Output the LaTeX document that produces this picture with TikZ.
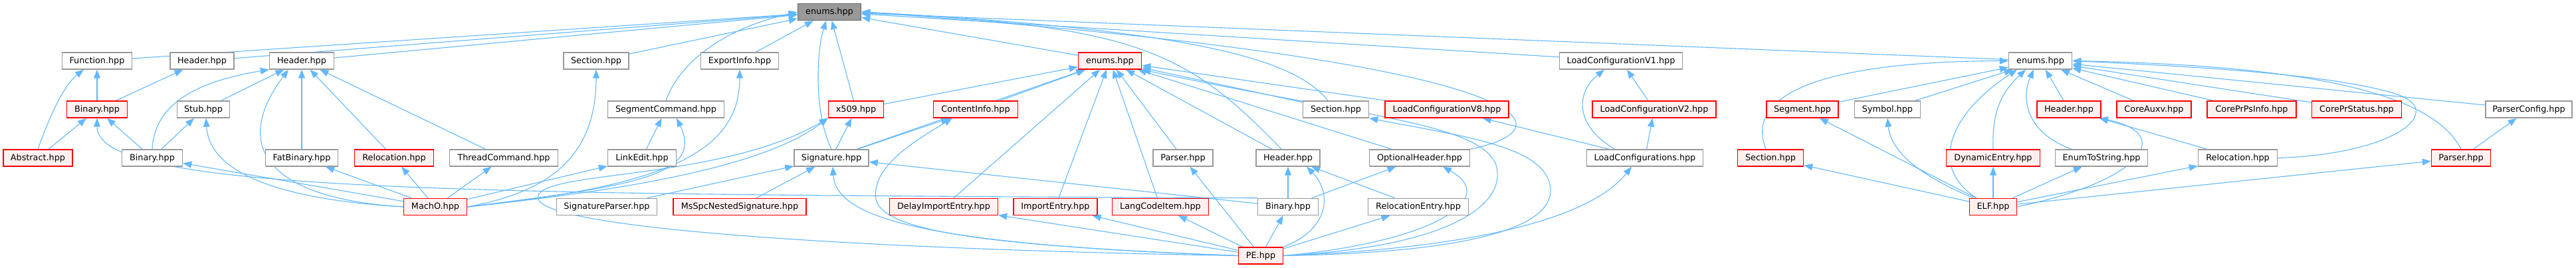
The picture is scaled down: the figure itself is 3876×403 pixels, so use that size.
\documentclass[tikz,border=0pt]{standalone}
\usepackage{fontspec}
\setmainfont{DejaVu Sans}
\usetikzlibrary{arrows.meta}
\pgfdeclarelayer{background}
\pgfsetlayers{background,main}
\definecolor{edgeblue}{HTML}{63B8FF}
\definecolor{boxgray}{HTML}{999999}
\definecolor{rootgray}{HTML}{666666}
\definecolor{boxred}{HTML}{FF0000}
\definecolor{boxpink}{HTML}{FFF0F0}

\begin{document}
\begin{tikzpicture}[x=1pt, y=-1pt,
    box/.style={draw=boxgray, fill=white, line width=1.4pt, minimum height=25pt,
      inner sep=0pt, font=\fontsize{12.8pt}{15pt}\selectfont},
    redbox/.style={box, draw=boxred, fill=boxpink},
    rootbox/.style={box, draw=rootgray, fill=boxgray},
    edge/.style={draw=edgeblue, line width=1.1pt, -{Triangle[length=13pt,width=10pt]}}]
  \useasboundingbox (0,0) rectangle (3876,403);

  % root
  \node[rootbox, minimum width=95pt] (root) at (1248,18) {enums.hpp};

  % row 1
  \node[box, minimum width=105pt] (func) at (146,91.5) {Function.hpp};
  \node[box, minimum width=96pt] (hdrA) at (304,91.5) {Header.hpp};
  \node[box, minimum width=97pt] (hdrM) at (454,91.5) {Header.hpp};
  \node[box, minimum width=98pt] (secM) at (897,91.5) {Section.hpp};
  \node[box, minimum width=117pt] (expI) at (1113,91.5) {ExportInfo.hpp};
  \node[redbox, minimum width=95pt] (enmPE) at (1670,91.5) {enums.hpp};
  \node[box, minimum width=185pt] (lcvI) at (2439,91.5) {LoadConfigurationV1.hpp};
  \node[box, minimum width=95pt] (enmELF) at (3070,91.5) {enums.hpp};

  % row 2
  \node[redbox, minimum width=91pt] (binA) at (146,164.5) {Binary.hpp};
  \node[box, minimum width=79pt] (stub) at (306,164.5) {Stub.hpp};
  \node[box, minimum width=175pt] (segC) at (1002,164.5) {SegmentCommand.hpp};
  \node[redbox, minimum width=83pt] (xcert) at (1288,164.5) {x509.hpp};
  \node[redbox, minimum width=127pt] (cinfo) at (1468,164.5) {ContentInfo.hpp};
  \node[box, minimum width=99pt] (secPE) at (2010,164.5) {Section.hpp};
  \node[redbox, minimum width=186pt] (lcvVIII) at (2177,164.5) {LoadConfigurationV8.hpp};
  \node[redbox, minimum width=186pt] (lcvII) at (2489,164.5) {LoadConfigurationV2.hpp};
  \node[redbox, minimum width=108pt] (segE) at (2712,164.5) {Segment.hpp};
  \node[box, minimum width=99pt] (sym) at (2840,164.5) {Symbol.hpp};
  \node[redbox, minimum width=96pt] (hdrE) at (3113,164.5) {Header.hpp};
  \node[redbox, minimum width=112pt] (auxv) at (3241,164.5) {CoreAuxv.hpp};
  \node[redbox, minimum width=134pt] (psinfo) at (3388,164.5) {CorePrPsInfo.hpp};
  \node[redbox, minimum width=135pt] (prstat) at (3546,164.5) {CorePrStatus.hpp};
  \node[box, minimum width=130pt] (pcfg) at (3805,164.5) {ParserConfig.hpp};

  % row 3
  \node[redbox, minimum width=104pt] (abst) at (57,237.5) {Abstract.hpp};
  \node[box, minimum width=91pt] (binM) at (229,237.5) {Binary.hpp};
  \node[box, minimum width=109pt] (fat) at (454,237.5) {FatBinary.hpp};
  \node[redbox, minimum width=119pt] (relM) at (593,237.5) {Relocation.hpp};
  \node[box, minimum width=163pt] (thread) at (758,237.5) {ThreadCommand.hpp};
  \node[box, minimum width=103pt] (ledit) at (966,237.5) {LinkEdit.hpp};
  \node[box, minimum width=112pt] (sig) at (1251,237.5) {Signature.hpp};
  \node[box, minimum width=90pt] (parPE) at (1780,237.5) {Parser.hpp};
  \node[box, minimum width=96pt] (hdrPE) at (1938,237.5) {Header.hpp};
  \node[box, minimum width=151pt] (opt) at (2136,237.5) {OptionalHeader.hpp};
  \node[box, minimum width=175pt] (lcfg) at (2475,237.5) {LoadConfigurations.hpp};
  \node[redbox, minimum width=99pt] (secE) at (2664,237.5) {Section.hpp};
  \node[redbox, minimum width=141pt] (dyn) at (2999,237.5) {DynamicEntry.hpp};
  \node[box, minimum width=139pt] (e2s) at (3162,237.5) {EnumToString.hpp};
  \node[box, minimum width=119pt] (relE) at (3367,237.5) {Relocation.hpp};
  \node[redbox, minimum width=89pt] (parE) at (3703,237.5) {Parser.hpp};

  % row 4
  \node[redbox, minimum width=95pt] (macho) at (655,311) {MachO.hpp};
  \node[box, minimum width=151pt] (sigpar) at (913,311) {SignatureParser.hpp};
  \node[redbox, minimum width=200pt] (msspc) at (1113,311) {MsSpcNestedSignature.hpp};
  \node[redbox, minimum width=163pt] (delay) at (1420,311) {DelayImportEntry.hpp};
  \node[redbox, minimum width=126pt] (imp) at (1588,311) {ImportEntry.hpp};
  \node[redbox, minimum width=145pt] (lang) at (1746,311) {LangCodeItem.hpp};
  \node[box, minimum width=91pt] (binPE) at (1938,311) {Binary.hpp};
  \node[box, minimum width=151pt] (reloc) at (2134,311) {RelocationEntry.hpp};
  \node[redbox, minimum width=71pt] (elf) at (2999,311) {ELF.hpp};

  % row 5
  \node[redbox, minimum width=67pt] (pe) at (1897,384.5) {PE.hpp};

  \begin{pgfonlayer}{background}
  % straight edges
  \foreach \a/\b in {func/root, hdrA/root, hdrM/root, secM/root, expI/root, xcert/root,
      enmPE/root, lcvI/root, enmELF/root,
      binA/func, binA/hdrA, abst/binA, binM/binA, binM/stub, stub/hdrM, fat/hdrM,
      relM/hdrM, thread/hdrM,
      macho/binM, macho/fat, macho/relM, macho/thread, macho/ledit, ledit/segC,
      sig/xcert, sig/cinfo, sig/enmPE, xcert/enmPE, cinfo/enmPE, sigpar/sig, msspc/sig, binPE/sig,
      delay/enmPE, imp/enmPE, lang/enmPE, parPE/enmPE, hdrPE/enmPE, secPE/enmPE,
      lcvVIII/enmPE, opt/enmPE,
      binPE/hdrPE, binPE/opt, reloc/hdrPE, pe/binPE, pe/reloc, pe/delay, pe/imp, pe/lang, pe/parPE,
      lcvII/lcvI, lcfg/lcvII, lcfg/lcvVIII,
      segE/enmELF, sym/enmELF, hdrE/enmELF, auxv/enmELF, psinfo/enmELF, prstat/enmELF, pcfg/enmELF,
      elf/secE, elf/segE, elf/dyn, elf/e2s, elf/relE, elf/parE, relE/hdrE, parE/pcfg}
    \draw[edge] (\a) -- (\b);

  % curved edges, MachO side
  \draw[edge] (abst.north) .. controls (80,160) and (100,125) .. ([xshift=-20pt]func.south);
  \draw[edge] (binM.north) .. controls (232,165) and (280,125) .. (hdrM.south west);
  \draw[edge] (macho.west) .. controls (420,300) and (315,260) .. ([xshift=4pt]stub.south);
  \draw[edge] (macho.west) .. controls (420,300) and (340,230) .. ([xshift=-20pt]hdrM.south);
  \draw[edge] (binPE.north west) .. controls (700,292) and (146,290) .. (binA.south);
  \draw[edge] (macho.east) .. controls (820,290) and (897,240) .. (secM.south);
  \draw[edge] (macho.east) .. controls (950,280) and (1060,265) .. ([xshift=16pt]segC.south);
  \draw[edge] (macho.east) .. controls (1000,280) and (1113,230) .. (expI.south);
  \draw[edge] (macho.east) .. controls (950,285) and (1150,250) .. (xcert.south west);
  \draw[edge] (segC.north) .. controls (1020,100) and (1080,45) .. (root.west);
  \draw[edge] (sig.north) .. controls (1225,170) and (1228,80) .. ([xshift=-5pt]root.south);

  % curved edges, PE side
  \draw[edge] (pe.west) .. controls (1400,368) and (1258,330) .. ([xshift=2pt]sig.south);
  \draw[edge] (pe.west) .. controls (1500,370) and (1330,350) .. (1318,300)
    .. controls (1310,250) and (1380,210) .. ([xshift=-35pt]cinfo.south);
  \draw[edge] (pe.west) .. controls (1300,375) and (830,345) .. (810,300)
    .. controls (795,255) and (1080,275) .. (xcert.south west);
  \draw[edge] (pe.north east) .. controls (2000,345) and (2005,290) .. ([xshift=28pt]hdrPE.south);
  \draw[edge] (pe.east) .. controls (2150,365) and (2260,300) .. ([xshift=35pt]opt.south);
  \draw[edge] (pe.east) .. controls (2200,380) and (2335,345) .. (2333,285)
    .. controls (2330,220) and (2200,205) .. (secPE.south east);
  \draw[edge] (pe.east) .. controls (2200,370) and (2270,300) .. (2250,245)
    .. controls (2220,185) and (2050,175) .. (enmPE.south east);
  \draw[edge] (pe.east) .. controls (2250,372) and (2400,320) .. ([xshift=-20pt]lcfg.south);
  \draw[edge] ([xshift=-10pt]hdrPE.north) .. controls (1780,70) and (1700,40) .. (root.east);
  \draw[edge] ([xshift=-12pt]secPE.north) .. controls (1950,90) and (1800,45) .. (root.east);
  \draw[edge] (opt.north east) .. controls (2380,190) and (2300,90) .. (root.east);
  \draw[edge] ([xshift=-45pt]lcfg.north) .. controls (2370,190) and (2370,140) .. ([xshift=-25pt]lcvI.south);

  % curved edges, ELF side
  \draw[edge] ([xshift=-25pt]elf.north) .. controls (2900,250) and (2935,170) .. ([xshift=-35pt]enmELF.south);
  \draw[edge] (dyn.north) .. controls (2997,170) and (3010,140) .. ([xshift=-22pt]enmELF.south);
  \draw[edge] ([xshift=-45pt]e2s.north) .. controls (3050,200) and (3040,150) .. ([xshift=-10pt]enmELF.south);
  \draw[edge] ([xshift=-7pt]secE.north) .. controls (2620,130) and (2780,92) .. (enmELF.west);
  \draw[edge] ([xshift=-30pt]elf.north) .. controls (2880,260) and (2845,225) .. (sym.south);
  \draw[edge] (elf.east) .. controls (3230,270) and (3270,200) .. ([xshift=-3pt]hdrE.south east);
  \draw[edge] (relE.east) .. controls (3600,232) and (3680,170) .. (3610,143)
    .. controls (3520,112) and (3300,100) .. (enmELF.east);
  \draw[edge] (parE.north) .. controls (3670,160) and (3550,100) .. (enmELF.east);
  \end{pgfonlayer}
\end{tikzpicture}
\end{document}
